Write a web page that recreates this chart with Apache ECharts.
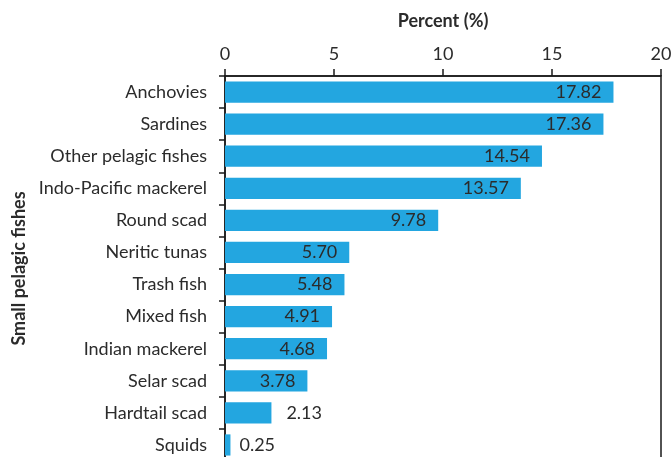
<!DOCTYPE html>
<html>
<head>
<meta charset="utf-8">
<script src="https://cdn.jsdelivr.net/npm/echarts@6/dist/echarts.min.js"></script>
<style>
  html, body { margin: 0; padding: 0; background: #ffffff; }
  #chart { width: 672px; height: 457px; }
</style>
</head>
<body>
<div id="chart"></div>
<script>
// Catch composition of small pelagic fishes, percent of total
const categories = [
  'Anchovies', 'Sardines', 'Other pelagic fishes', 'Indo-Pacific mackerel',
  'Round scad', 'Neritic tunas', 'Trash fish', 'Mixed fish',
  'Indian mackerel', 'Selar scad', 'Hardtail scad', 'Squids'
];
const percents = [17.82, 17.36, 14.54, 13.57, 9.78, 5.70, 5.48, 4.91, 4.68, 3.78, 2.13, 0.25];
const xTicks = [0, 5, 10, 15, 20];

const FONT = 'Lato';
const TEXT = '#2b2b2b';

// Short bars carry their value outside, the rest inside at the bar end
const barData = percents.map(function (v) {
  const outside = v < 3;
  return {
    value: v,
    label: {
      position: outside ? 'right' : 'insideRight',
      distance: outside ? (v < 1 ? 9 : 15) : 12
    }
  };
});

const chart = echarts.init(document.getElementById('chart'));
chart.setOption({
  animation: false,
  backgroundColor: '#ffffff',
  grid: {
    left: 225, right: 11, top: 76, height: 385,
    outerBoundsMode: 'none',
    containLabel: false,
    show: true, borderColor: '#1a1a1a', borderWidth: 1.5,
    backgroundColor: 'transparent'
  },
  xAxis: {
    type: 'value',
    position: 'top',
    min: xTicks[0],
    max: xTicks[xTicks.length - 1],
    interval: xTicks[1] - xTicks[0],
    name: 'Percent (%)',
    nameLocation: 'middle',
    nameGap: 46,
    nameTextStyle: { fontFamily: FONT, fontSize: 18, fontWeight: 'bold', color: TEXT },
    axisLine: { show: true, lineStyle: { color: '#1a1a1a', width: 1.5 } },
    axisTick: { show: true, length: 7, lineStyle: { color: '#1a1a1a', width: 1.5 } },
    axisLabel: { fontFamily: FONT, fontSize: 18, color: TEXT, margin: 13 },
    splitLine: { show: false }
  },
  yAxis: {
    type: 'category',
    inverse: true,
    data: categories,
    name: 'Small pelagic fishes',
    nameLocation: 'middle',
    nameGap: 196,
    nameRotate: 90,
    nameTextStyle: { fontFamily: FONT, fontSize: 18, fontWeight: 'bold', color: TEXT },
    axisLine: { show: true, lineStyle: { color: '#1a1a1a', width: 1.5 } },
    axisTick: { show: true, length: 6, lineStyle: { color: '#1a1a1a', width: 1.5 } },
    axisLabel: { fontFamily: FONT, fontSize: 18, color: TEXT, margin: 18 }
  },
  series: [{
    type: 'bar',
    data: barData,
    barWidth: '66%',
    itemStyle: { color: '#23a6e0' },
    label: {
      show: true,
      fontFamily: FONT,
      fontSize: 18,
      color: TEXT,
      formatter: function (p) { return p.value.toFixed(2); }
    }
  }]
});
</script>
</body>
</html>
